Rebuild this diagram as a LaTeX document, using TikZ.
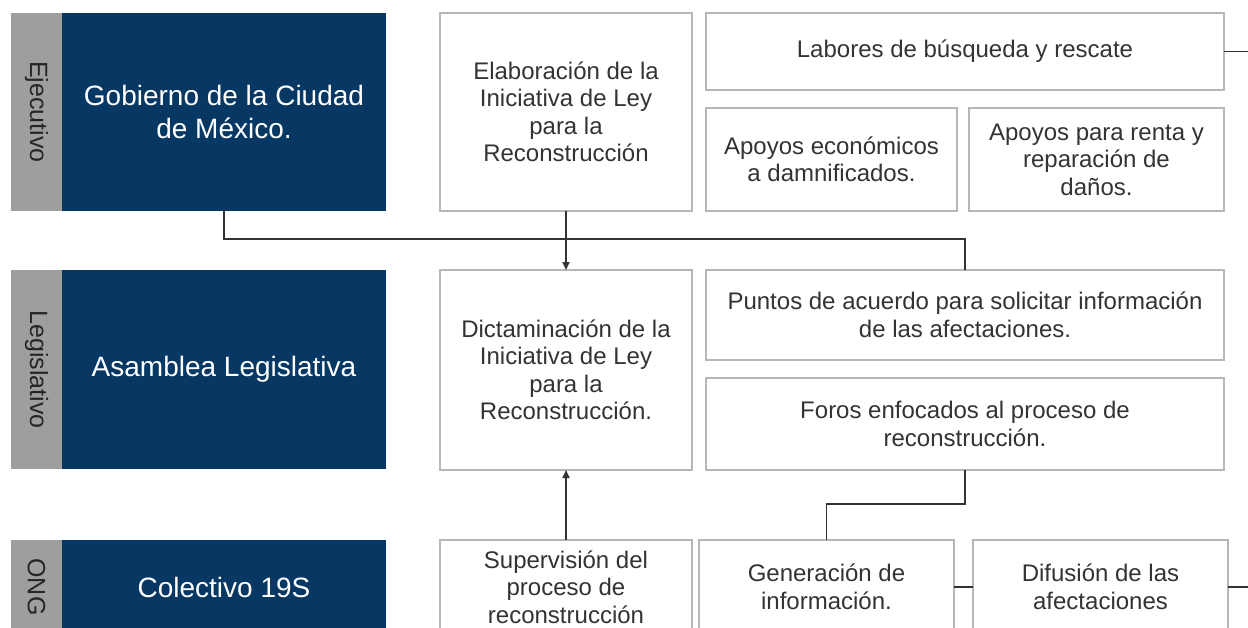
\documentclass[tikz,border=0pt]{standalone}
\usepackage{fontspec}
\setmainfont{Liberation Sans}
\usetikzlibrary{arrows.meta}
\definecolor{navy}{HTML}{073763}
\definecolor{stripgray}{HTML}{9E9E9E}
\definecolor{boxborder}{HTML}{B7B7B7}
\definecolor{boxtext}{HTML}{333333}
\definecolor{conncol}{HTML}{333333}
\tikzset{
  bluebox/.style={fill=navy, draw=none, inner sep=0pt, outer sep=0pt, text=white, align=center, font=\fontsize{28}{33}\selectfont},
  stripbox/.style={fill=stripgray, draw=none, inner sep=0pt, outer sep=0pt, text=black!85, rotate=-90, font=\fontsize{25}{30}\selectfont},
  whitebox/.style={fill=white, draw=boxborder, line width=1.5pt, inner sep=0pt, outer sep=0pt, text=boxtext, align=center, font=\fontsize{24}{27.5}\selectfont},
  conn/.style={draw=conncol, line width=1.6pt},
  arr/.style={conn, -{Triangle[length=8pt,width=7pt]}}
}
\begin{document}
\begin{tikzpicture}[x=1pt,y=1pt]
\clip (0,0) rectangle (1248,-627);
\fill[white] (0,0) rectangle (1248,-627);
% left column
\node[bluebox, minimum width=324, minimum height=198] (gob) at (224,-112) {Gobierno de la Ciudad\\de México.};
\node[stripbox, minimum width=198, minimum height=51] (s1) at (36.5,-112) {Ejecutivo};
\node[bluebox, minimum width=324, minimum height=199] (leg) at (224,-369.5) {Asamblea Legislativa};
\node[stripbox, minimum width=199, minimum height=51] (s2) at (36.5,-369.5) {Legislativo};
\node[bluebox, minimum width=324, minimum height=94] (col) at (224,-587) {Colectivo 19S};
\node[stripbox, minimum width=94, minimum height=51] (s3) at (36.5,-587) {ONG};
% top row
\node[whitebox, minimum width=252, minimum height=198] (elab) at (566,-112) {Elaboración de la\\Iniciativa de Ley\\para la\\Reconstrucción};
\node[whitebox, minimum width=518, minimum height=77] (lab) at (965,-51.5) {Labores de búsqueda y rescate};
\node[whitebox, minimum width=251, minimum height=103] (eco) at (831.5,-159.5) {Apoyos económicos\\a damnificados.};
\node[whitebox, minimum width=255, minimum height=103] (renta) at (1096.5,-159.5) {Apoyos para renta y\\reparación de\\daños.};
% middle row
\node[whitebox, minimum width=252, minimum height=200] (dict) at (566,-370) {Dictaminación de la\\Iniciativa de Ley\\para la\\Reconstrucción.};
\node[whitebox, minimum width=518, minimum height=90] (puntos) at (965,-315) {Puntos de acuerdo para solicitar información\\de las afectaciones.};
\node[whitebox, minimum width=518, minimum height=92] (foros) at (965,-424) {Foros enfocados al proceso de\\reconstrucción.};
% bottom row
\node[whitebox, minimum width=252, minimum height=94] (sup) at (566,-587) {Supervisión del\\proceso de\\reconstrucción};
\node[whitebox, minimum width=255, minimum height=94] (gen) at (826.5,-587) {Generación de\\información.};
\node[whitebox, minimum width=255, minimum height=94] (dif) at (1100.5,-587) {Difusión de las\\afectaciones};
% free ends
\coordinate (e1) at (1248,-51.5);
\coordinate (e2) at (1248,-587);
% connectors
\draw[conn] (gob.south) -- ++(0,-28) -| (puntos.north);
\draw[arr] (elab.south) -- (dict.north);
\draw[conn] (foros.south) -- ++(0,-34) -| (gen.north);
\draw[arr] (sup.north) -- (dict.south);
\draw[conn] (gen.east) -- (dif.west);
\draw[conn] (lab.east) -- (e1);
\draw[conn] (dif.east) -- (e2);
\end{tikzpicture}
\end{document}
